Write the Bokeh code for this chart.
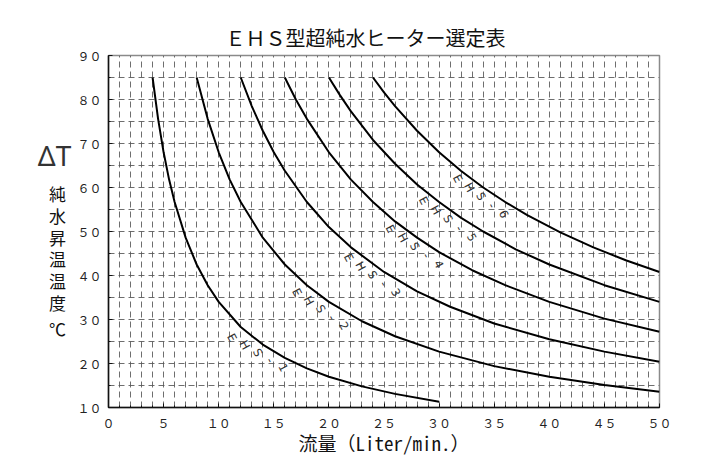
import numpy as np
from bokeh.plotting import figure
from bokeh.layouts import row
from bokeh.models import FixedTicker, Range1d, Title
from bokeh.core.properties import value
from bokeh.embed import file_html
from bokeh.resources import INLINE

# ---------------- data ----------------
title_text = "ＥＨＳ型超純水ヒーター選定表"
x_axis_text = "流量（Liter/min.）"
y_axis_symbol = "ΔT"
y_axis_chars = ["純", "水", "昇", "温", "温", "度", "℃"]

x_ticks = [0, 5, 10, 15, 20, 25, 30, 35, 40, 45, 50]
x_tick_labels = ["０", "５", "１０", "１５", "２０", "２５", "３０", "３５", "４０", "４５", "５０"]
y_ticks = [10, 20, 30, 40, 50, 60, 70, 80, 90]
y_tick_labels = ["１０", "２０", "３０", "４０", "５０", "６０", "７０", "８０", "９０"]

ehs1_x = [4, 4.5, 5, 5.5, 6, 7, 8, 9, 10, 12, 14, 16, 18, 20, 23, 26, 30]
ehs1_y = [85, 75.6, 68, 61.8, 56.7, 48.6, 42.5, 37.8, 34, 28.3, 24.3, 21.3, 18.9, 17, 14.8, 13.1, 11.3]

ehs2_x = [8, 9, 10, 11, 12, 14, 16, 18, 20, 23, 26, 30, 35, 40, 45, 50]
ehs2_y = [85, 75.6, 68, 61.8, 56.7, 48.6, 42.5, 37.8, 34, 29.6, 26.2, 22.7, 19.4, 17, 15.1, 13.6]

ehs3_x = [12, 13, 14, 15, 16, 18, 20, 22, 25, 28, 31, 35, 40, 45, 50]
ehs3_y = [85, 78.5, 72.9, 68, 63.8, 56.7, 51, 46.4, 40.8, 36.4, 32.9, 29.1, 25.5, 22.7, 20.4]

ehs4_x = [16, 17, 18, 20, 22, 24, 26, 28, 30, 33, 36, 40, 45, 50]
ehs4_y = [85, 80, 75.6, 68, 61.8, 56.7, 52.3, 48.6, 45.3, 41.2, 37.8, 34, 30.2, 27.2]

ehs5_x = [20, 21, 22, 24, 26, 28, 30, 32, 34, 37, 40, 45, 50]
ehs5_y = [85, 81, 77.3, 70.8, 65.4, 60.7, 56.7, 53.1, 50, 45.9, 42.5, 37.8, 34]

ehs6_x = [24, 25, 26, 28, 30, 32, 34, 36, 38, 41, 44, 47, 50]
ehs6_y = [85, 81.6, 78.5, 72.9, 68, 63.75, 60, 56.7, 53.7, 49.8, 46.4, 43.4, 40.8]

series_x = [ehs1_x, ehs2_x, ehs3_x, ehs4_x, ehs5_x, ehs6_x]
series_y = [ehs1_y, ehs2_y, ehs3_y, ehs4_y, ehs5_y, ehs6_y]
series_names = ["EHS-1", "EHS-2", "EHS-3", "EHS-4", "EHS-5", "EHS-6"]

# label placement (start / end of each rotated curve label, in data units)
label_start = [(11.2, 25.9), (17.1, 36.2), (21.8, 44.1), (25.6, 50.6), (28.6, 57.0), (31.7, 62.0)]
label_end = [(15.9, 19.1), (21.4, 28.6), (26.1, 36.2), (30.0, 42.6), (33.0, 48.7), (35.9, 54.0)]

JP = "Noto Sans CJK JP"
MONO_JP = "'Noto Sans Mono CJK JP', 'Noto Sans CJK JP'"
H = 465
LW = 74
FRAME_TOP = 55
FRAME_H = 352

# ---------------- side panel with the y-axis caption ----------------
# its frame is aligned with the chart frame, so y here is the page pixel row
side = figure(width=LW, height=H, x_range=Range1d(0, LW),
              y_range=Range1d(FRAME_TOP + FRAME_H, FRAME_TOP),
              output_backend="svg", toolbar_location=None, title=None,
              x_axis_location=None, y_axis_location=None,
              min_border=0)
side.outline_line_color = None
side.grid.visible = False
side.text(x=[54], y=[154], text=[y_axis_symbol], text_font=value("Noto Sans"),
          text_font_size="28px", text_color="#333333",
          text_align="center", text_baseline="middle")
char_y = [193, 214.8, 236.6, 258.4, 280.2, 302, 328]
side.text(x=[57] * len(y_axis_chars), y=char_y, text=y_axis_chars,
          text_font=value(JP), text_font_size="17px", text_color="#111111",
          text_align="center", text_baseline="middle")

# ---------------- main chart ----------------
p = figure(width=710 - LW, height=H,
           x_range=Range1d(0, 50), y_range=Range1d(10, 90),
           output_backend="svg", toolbar_location=None, title=None,
           min_border_left=108 - LW, min_border_right=51,
           min_border_top=FRAME_TOP, min_border_bottom=H - FRAME_TOP - FRAME_H)

p.background_fill_color = "white"
p.border_fill_color = "white"
p.outline_line_color = "#8a8a8a"
p.outline_line_width = 1.5

p.add_layout(Title(text=title_text, align="left", offset=117,
                   text_font=JP, text_font_size="20px", text_font_style="normal",
                   text_color="#111111", standoff=8), "above")

# grid
p.xgrid.ticker = FixedTicker(ticks=list(range(0, 51)))
p.ygrid.ticker = FixedTicker(ticks=list(range(10, 91, 5)))
for g in (p.xgrid, p.ygrid):
    g.grid_line_color = "#555555"
    g.grid_line_dash = "6 4"
    g.grid_line_width = 1
    g.grid_line_alpha = 0.85

# axes
p.xaxis.ticker = FixedTicker(ticks=x_ticks, minor_ticks=list(range(0, 51)))
p.xaxis.major_label_overrides = {t: l for t, l in zip(x_ticks, x_tick_labels)}
p.yaxis.ticker = FixedTicker(ticks=y_ticks, minor_ticks=list(range(10, 91, 5)))
p.yaxis.major_label_overrides = {t: l for t, l in zip(y_ticks, y_tick_labels)}
for ax in (p.xaxis, p.yaxis):
    ax.axis_line_color = "#111111"
    ax.axis_line_width = 1.5
    ax.major_tick_in = 4
    ax.major_tick_out = 0
    ax.minor_tick_in = 2
    ax.minor_tick_out = 0
    ax.major_tick_line_color = "#111111"
    ax.minor_tick_line_color = "#111111"
    ax.major_label_text_font = JP
    ax.major_label_text_font_size = "12px"
    ax.major_label_text_color = "#222222"
p.xaxis.major_label_standoff = 6
p.yaxis.major_label_standoff = 7

p.xaxis.axis_label = x_axis_text
p.xaxis.axis_label_text_font = MONO_JP
p.xaxis.axis_label_text_font_style = "normal"
p.xaxis.axis_label_text_color = "#111111"
p.xaxis.axis_label_text_font_size = "19px"
p.xaxis.axis_label_standoff = -5

# curves
for xs, ys in zip(series_x, series_y):
    p.line(xs, ys, line_color="black", line_width=2)

# curve labels: characters placed along a line, each rotated
for name, (x0, y0), (x1, y1) in zip(series_names, label_start, label_end):
    n = len(name)
    xs = list(np.linspace(x0, x1, n))
    ys = list(np.linspace(y0, y1, n))
    p.text(x=xs, y=ys, text=list(name), angle=-62, angle_units="deg",
           text_font=value("DejaVu Sans"), text_font_size="11.5px",
           text_color="#333333", text_align="center", text_baseline="middle")

layout = row(side, p)
open("out.html", "w").write(file_html(layout, INLINE))
